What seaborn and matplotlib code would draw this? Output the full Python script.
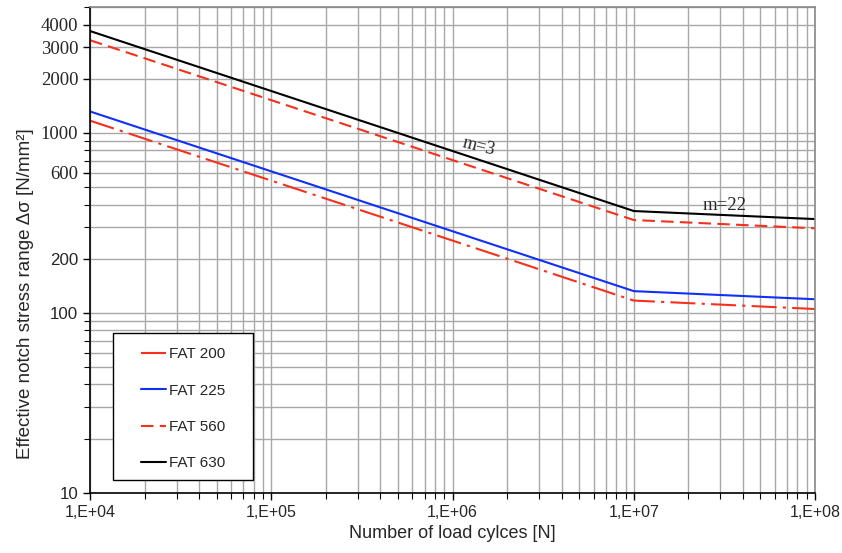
import numpy as np
import pandas as pd
import seaborn as sns
import matplotlib.pyplot as plt
from matplotlib.patches import Rectangle
from matplotlib.ticker import FixedLocator, LogLocator, NullFormatter

# S-N curves (knee at 1e7 cycles, m=3 before, m=22 after)
cycles = [1e4, 1e7, 1e8]
fat_200 = [1170, 117, 105]
fat_225 = [1316, 132, 119]
fat_560 = [3275, 328, 295]
fat_630 = [3684, 368, 332]

series_names = ["FAT 200", "FAT 225", "FAT 560", "FAT 630"]
series_vals = [fat_200, fat_225, fat_560, fat_630]

y_ticks = [10, 100, 200, 600, 1000, 2000, 3000, 4000]
x_ticks = [1e4, 1e5, 1e6, 1e7, 1e8]
x_tick_labels = ["1,E+04", "1,E+05", "1,E+06", "1,E+07", "1,E+08"]

rows = []
for name, vals in zip(series_names, series_vals):
    for n, s in zip(cycles, vals):
        rows.append({"N": n, "stress": s, "curve": name})
df = pd.DataFrame(rows)

sns.set_style("white")
plt.rcParams['font.family'] = ['Liberation Sans', 'DejaVu Sans']
serif = ['Liberation Serif', 'DejaVu Serif']

colors = {"FAT 200": "#f5301c", "FAT 225": "#1030f5",
          "FAT 560": "#f5301c", "FAT 630": "#000000"}
dashes = {"FAT 200": (12, 3, 1.5, 3), "FAT 225": "",
          "FAT 560": (6, 3), "FAT 630": ""}

fig, ax = plt.subplots(figsize=(8.42, 5.53), dpi=100)
fig.subplots_adjust(left=0.107, right=0.968, bottom=0.109, top=0.987)

sns.lineplot(data=df, x="N", y="stress", hue="curve", style="curve",
             palette=colors, dashes=dashes, linewidth=1.5, ax=ax)

ax.set_xscale("log")
ax.set_yscale("log")
ax.set_xlim(1e4, 1e8)
ax.set_ylim(10, 5000)

ax.xaxis.set_major_locator(FixedLocator(x_ticks))
ax.set_xticklabels(x_tick_labels)
ax.xaxis.set_minor_locator(LogLocator(base=10, subs=np.arange(2, 10)))
ax.xaxis.set_minor_formatter(NullFormatter())

ax.yaxis.set_major_locator(FixedLocator(y_ticks))
ax.set_yticklabels([str(v) for v in y_ticks])
ax.yaxis.set_minor_locator(LogLocator(base=10, subs=np.arange(2, 10)))
ax.yaxis.set_minor_formatter(NullFormatter())
for lab, v in zip(ax.get_yticklabels(), y_ticks):
    if v >= 600:
        lab.set_family(serif)
        lab.set_fontsize(13.5)
    else:
        lab.set_fontsize(12.2)
for lab in ax.get_xticklabels():
    lab.set_fontsize(11.5)

ax.grid(True, which="both", color="#a8a8a8", linewidth=1.0)
ax.set_axisbelow(True)
ax.tick_params(axis="both", which="both", direction="out", color="black",
               left=True, bottom=True)
ax.tick_params(which="major", length=5, width=1)
ax.tick_params(which="minor", length=4, width=0.8)
for side in ["left", "bottom"]:
    ax.spines[side].set_color("black")
    ax.spines[side].set_linewidth(1.2)
for side in ["top", "right"]:
    ax.spines[side].set_color("#888888")
    ax.spines[side].set_linewidth(1.2)

ax.set_xlabel("Number of load cylces [N]", fontsize=13)
ax.set_ylabel("Effective notch stress range \u0394\u03c3 [N/mm²]", fontsize=13.5)
ax.yaxis.set_label_coords(-0.078, 0.41)

ax.text(1.4e6, 840, "m=3", family=serif,
        fontsize=13, rotation=-14, ha="center", va="center")
ax.text(3.15e7, 395, "m=22", family=serif,
        fontsize=13.5, ha="center", va="center")

# legend: white box with black frame, entries placed inside it
box = Rectangle((0.0317, 0.026), 0.193, 0.303, transform=ax.transAxes,
                facecolor="white", edgecolor="black", linewidth=1.0, zorder=4)
ax.add_patch(box)
handles, labels = ax.get_legend_handles_labels()
leg = ax.legend(handles, labels, loc="upper left", bbox_to_anchor=(0.0703, 0.300),
                frameon=False, fontsize=11, labelspacing=1.47,
                handlelength=1.6, handletextpad=0.2, borderpad=0, borderaxespad=0)
leg.set_zorder(5)

plt.savefig("out.png", dpi=100)
